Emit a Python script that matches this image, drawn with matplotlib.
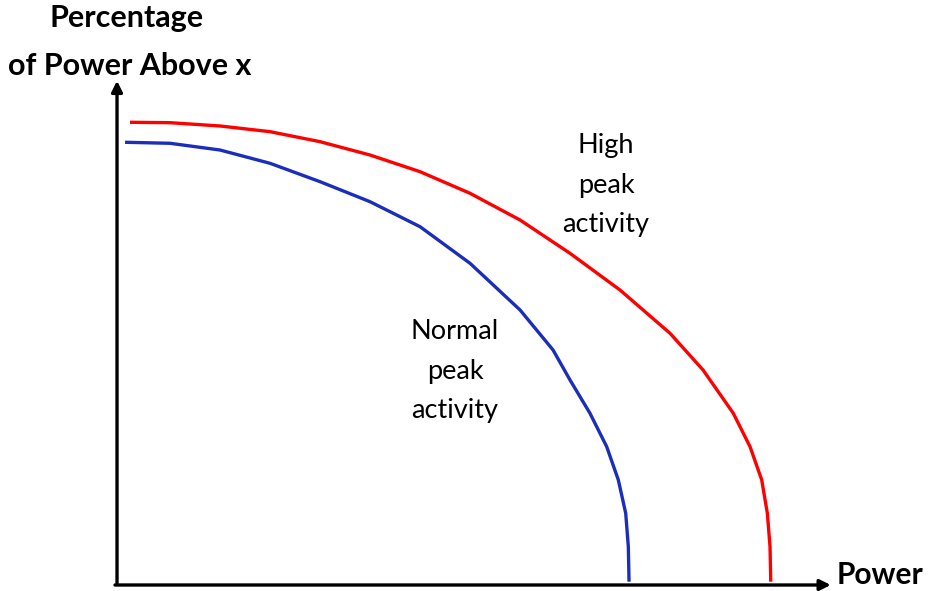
import matplotlib
matplotlib.use("Agg")
import matplotlib.pyplot as plt

# ---- data (arbitrary units 0-100) ----
high_power = [1.99, 8.12, 15.77, 23.43, 31.09, 38.74, 46.40, 54.06, 61.72,
              69.37, 77.03, 84.69, 89.74, 94.38, 96.94, 98.73, 99.59,
              100.0, 100.11]
high_pct = [99.94, 99.85, 99.14, 97.91, 95.75, 92.87, 89.27, 84.60, 78.83,
            71.64, 63.71, 54.36, 46.44, 37.08, 29.87, 22.68, 15.49,
            8.27, 0.71]

normal_power = [1.23, 8.12, 15.77, 23.43, 31.09, 38.74, 46.40, 54.06, 61.72,
                66.77, 69.37, 72.43, 74.99, 76.77, 77.90, 78.30, 78.41]
normal_pct = [95.62, 95.40, 93.95, 91.08, 87.11, 82.79, 77.39, 69.48, 59.40,
              50.76, 44.28, 37.08, 29.87, 22.68, 15.49, 8.27, 0.71]

y_label_lines = ["Percentage", "of Power Above x"]
x_label = "Power"
high_label_lines = ["High", "peak", "activity"]
normal_label_lines = ["Normal", "peak", "activity"]

W, H = 934, 591
fig = plt.figure(figsize=(W / 100, H / 100), dpi=100)
ax = fig.add_axes([0, 0, 1, 1])
ax.set_xlim(-17.92, 125.11)
ax.set_ylim(-1.296, 126.35)
ax.axis("off")

# axes with arrows
ax.annotate("", xy=(109.3, 0), xytext=(-0.31, 0),
            arrowprops=dict(arrowstyle="-|>", lw=2.4, color="black",
                            mutation_scale=16, shrinkA=0, shrinkB=0))
ax.annotate("", xy=(0, 108.9), xytext=(0, 0.4),
            arrowprops=dict(arrowstyle="-|>", lw=2.4, color="black",
                            mutation_scale=16, shrinkA=0, shrinkB=0))

ax.plot(high_power, high_pct, color="#FF0000", lw=2.4, solid_joinstyle="round",
        solid_capstyle="butt")
ax.plot(normal_power, normal_pct, color="#1A2EBB", lw=2.4, solid_joinstyle="round",
        solid_capstyle="butt")

font = "Lato"
def px(x, y):
    return x / W, 1 - y / H

for txt, (x, y) in zip(y_label_lines, [(127, 27), (130, 75)]):
    fig.text(*px(x, y), txt, ha="center", va="baseline",
             fontsize=22, fontweight="bold", family=font)
fig.text(*px(837, 584), x_label, ha="left", va="baseline",
         fontsize=21.5, fontweight="bold", family=font)

for txt, y in zip(high_label_lines, [153, 193, 232]):
    fig.text(*px(606, y), txt, ha="center", va="baseline",
             fontsize=19.5, family=font)
for txt, y in zip(normal_label_lines, [339, 379, 418]):
    fig.text(*px(455, y), txt, ha="center", va="baseline",
             fontsize=19.5, family=font)

fig.savefig("out.png", dpi=100)
